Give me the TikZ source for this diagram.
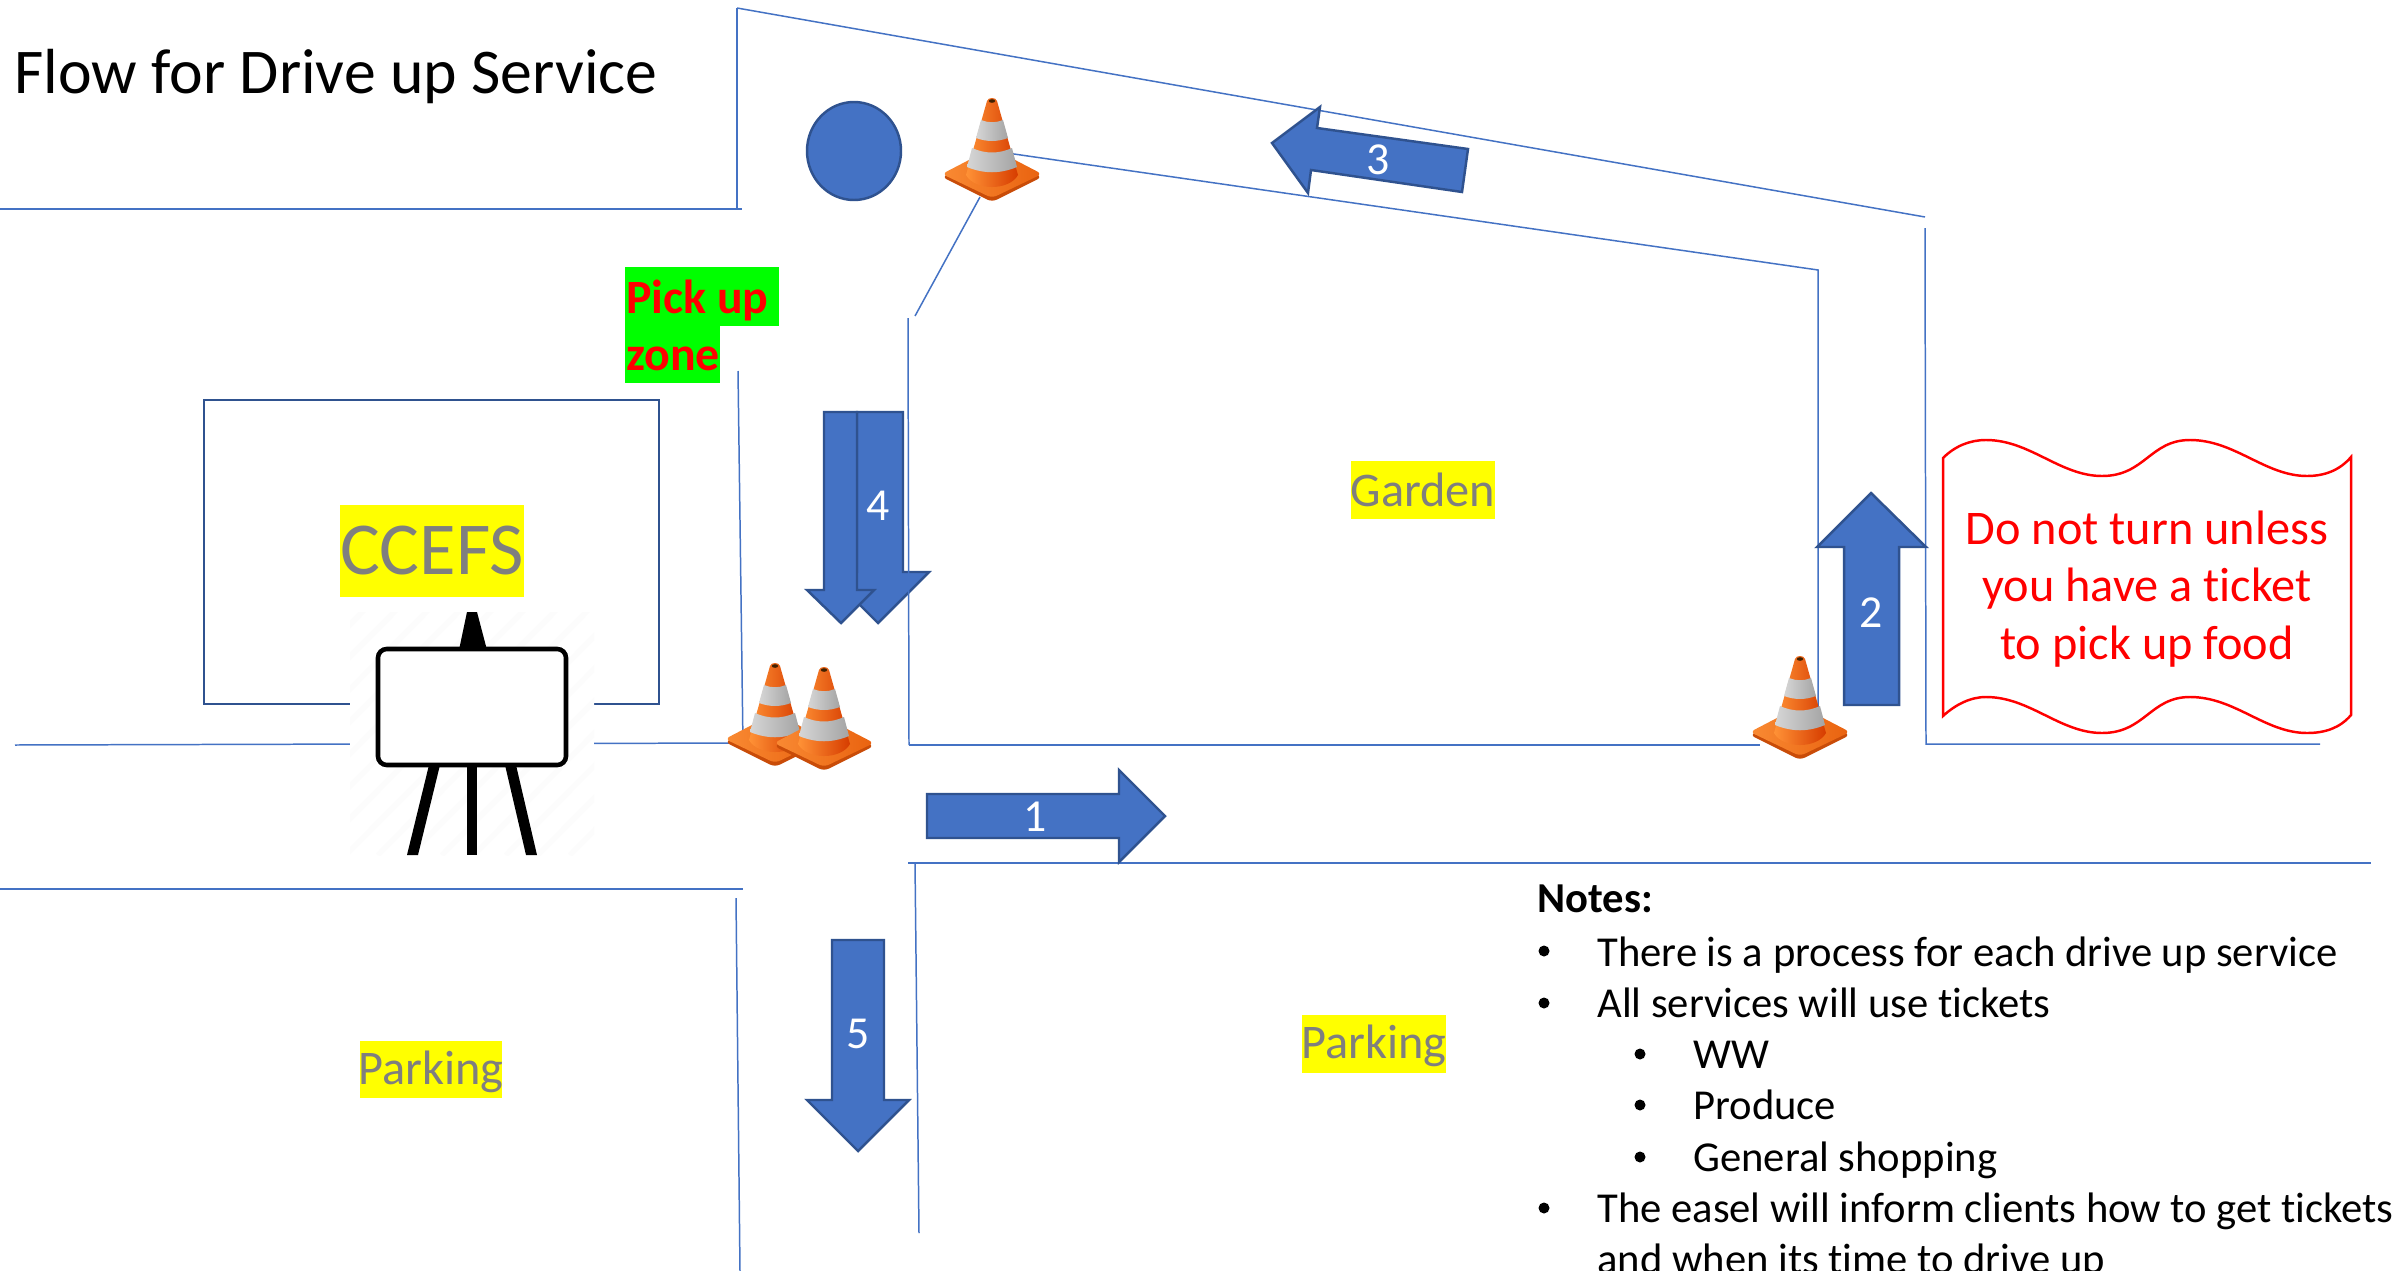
\documentclass[tikz,border=0pt]{standalone}
\usepackage{fontspec}
\setmainfont{Carlito}[Ligatures=NoCommon]
\definecolor{road}{HTML}{4472C4}
\definecolor{blockblue}{HTML}{4472C4}
\definecolor{blockedge}{HTML}{2F528F}
\definecolor{labelgrey}{HTML}{7F7F7F}
\definecolor{markyellow}{HTML}{FFFF00}
\definecolor{markgreen}{HTML}{00FF00}
\definecolor{signred}{HTML}{FF0000}
\definecolor{conea}{HTML}{FF9236}
\definecolor{coneb}{HTML}{F26F12}
\definecolor{conec}{HTML}{D63C00}
\definecolor{conedark}{HTML}{C94C08}
\definecolor{basel}{HTML}{F98A33}
\definecolor{baser}{HTML}{E9620F}
\definecolor{bandl}{HTML}{D6D6D6}
\definecolor{bandr}{HTML}{A4A4A4}
\newcommand{\px}[1]{\fontsize{\fpeval{#1*0.5669}pt}{\fpeval{#1*0.68}pt}\selectfont}
\tikzset{
  roadline/.style={draw=road,line width=0.85pt},
  block/.style={fill=blockblue,draw=blockedge,line width=1.4pt,line join=miter},
  num/.style={text=white,inner sep=0pt,font=\px{46}},
  area/.style={fill=markyellow,text=labelgrey,inner sep=0pt,font=\px{48.5}},
  note/.style={anchor=base west,inner sep=0pt,font=\px{42.8}},
  bul/.style={fill=black},
  pics/trafficcone/.style={code={
    \fill[conedark,rounded corners=3] (-50,79)--(0,54)--(50,79)--(0,104)--cycle;
    \shade[left color=basel,right color=baser,rounded corners=3] (-50,76)--(0,50)--(50,76)--(0,100)--cycle;
    \shade[left color=conea,middle color=coneb,right color=conec]
      (-5,3) .. controls (-4,-1) and (4,-1) .. (5,3) -- (26,77)
      .. controls (17,93) and (-17,93) .. (-26,77) -- cycle;
    \shade[left color=bandl,right color=bandr]
      (-11,22) .. controls (-4,25) and (4,25) .. (11,22) -- (16,40)
      .. controls (5,44) and (-5,44) .. (-16,40) -- cycle;
    \shade[left color=bandl,right color=bandr]
      (-20,50) .. controls (-7,56) and (7,56) .. (20,50) -- (25,69)
      .. controls (8,76) and (-8,76) .. (-25,69) -- cycle;
    \fill[black!75!orange] (0,3) ellipse [x radius=3.2,y radius=1.8];
  }}
}
\begin{document}
\begin{tikzpicture}[x=0.02cm,y=-0.02cm]
\useasboundingbox (0,0) rectangle (2394,1271);
\clip (0,0) rectangle (2394,1271);
\fill[white] (0,0) rectangle (2394,1271);

% roads
\draw[roadline] (737,8) -- (1925,217);
\draw[roadline] (737,8) -- (737,209);
\draw[roadline] (0,209) -- (742,209);
\draw[roadline] (1000,152) -- (1818,270) -- (1818,745);
\draw[roadline] (915,316) -- (980,197);
\draw[roadline] (738,371) -- (743,745);
\draw[roadline] (15,745) -- (745,743);
\draw[roadline] (909,745) -- (1760,745);
\draw[roadline] (1925,228) -- (1926,744) -- (2320,744);
\draw[roadline] (908,863) -- (2371,863);
\draw[roadline] (915,862) -- (919,1233);
\draw[roadline] (0,889) -- (743,889);
\draw[roadline] (736,898) -- (740,1271);

% CCEFS building
\draw[draw=blockedge,line width=1.4pt] (204,704) -- (204,400) -- (659,400) -- (659,704) -- cycle;

% circle
\draw[block] (854,151) ellipse [x radius=47,y radius=49];

% easel
\fill[white] (350,612) rectangle (594,855);
\begin{scope}
  \clip (350,612) rectangle (594,855);
  \foreach \d in {0,32,...,512}
    \draw[black!1.2,line width=3pt] (350+\d-260,855) -- (350+\d,612-20);
\end{scope}
\fill[black] (467,612) -- (477,612) -- (487,650) -- (459,650) -- cycle;
\fill[black] (429,765) -- (440,765) -- (418,855) -- (407,855) -- cycle;
\fill[black] (467,765) rectangle (477,855);
\fill[black] (505,765) -- (516,765) -- (537,855) -- (526,855) -- cycle;
\draw[black,fill=white,line width=2.6pt,rounded corners=5] (378,649) rectangle (566,765);

% block arrows
\draw[block] (927,794) -- (1119,794) -- (1119,770) -- (1165,816) -- (1119,862) -- (1119,838) -- (927,838) -- cycle;
\node[num] (n1) at (1035,817) {1};
\draw[block] (1844,705) -- (1844,547) -- (1817,547) -- (1871,493) -- (1926,547) -- (1899,547) -- (1899,705) -- cycle;
\node[num] (n2) at (1871,613) {2};
\draw[block] (1272,143) -- (1320,107) -- (1317,128) -- (1468,149) -- (1462,192) -- (1311,170) -- (1308,193) -- cycle;
\node[num] (n3) at (1378,160) {3};
\draw[block] (857,412) -- (903,412) -- (903,572) -- (929,572) -- (878,623) -- (827,572) -- (857,572) -- cycle;
\draw[block] (824,412) -- (857,412) -- (857,590) -- (874,590) -- (841,623) -- (807,590) -- (824,590) -- cycle;
\node[num] (n4) at (878,506) {4};
\draw[block] (832,940) -- (884,940) -- (884,1100) -- (909,1100) -- (858,1151) -- (807,1100) -- (832,1100) -- cycle;
\node[num] (n5) at (858,1034) {5};
\draw[roadline] (908,318) -- (909,745);

% cones
\pic at (992,98) {trafficcone};
\pic at (775,663) {trafficcone};
\pic at (824,667) {trafficcone};
\pic at (1800,656) {trafficcone};

% scroll sign
\draw[signred,line width=1.4pt]
  (1943,458) .. controls (1955,446) and (1970,440) .. (1986,440)
  .. controls (2030,440) and (2060,476) .. (2102,476)
  .. controls (2145,476) and (2150,440) .. (2190,440)
  .. controls (2235,440) and (2265,476) .. (2307,476)
  .. controls (2325,476) and (2340,470) .. (2351,457)
  -- (2351,715)
  .. controls (2340,728) and (2325,733) .. (2307,733)
  .. controls (2265,733) and (2235,697) .. (2190,697)
  .. controls (2150,697) and (2145,733) .. (2102,733)
  .. controls (2060,733) and (2030,697) .. (1986,697)
  .. controls (1970,697) and (1955,705) .. (1943,716)
  -- cycle;
\node[text=signred,inner sep=0pt,align=center,font=\fontsize{27.5pt}{32.9pt}\selectfont] (sign) at (2147,589)
  {Do not turn unless\\you have a ticket\\to pick up food};

% labels
\node[area,minimum width=144*0.02cm,minimum height=58*0.02cm] (garden) at (1423,490) {Garden};
\node[area,minimum width=184*0.02cm,minimum height=92*0.02cm,font=\px{75}] (ccefs) at (432,551) {CCEFS};
\fill[markyellow] (360,1041) rectangle (502,1098);
\node[text=labelgrey,inner sep=0pt,font=\px{48.5}] (park1) at (431,1072) {Parking};
\fill[markyellow] (1302,1015) rectangle (1446,1073);
\node[text=labelgrey,inner sep=0pt,font=\px{48.5}] (park2) at (1374,1046) {Parking};

\fill[markgreen] (625,267) rectangle (779,326);
\fill[markgreen] (625,326) rectangle (720,383);
\node[anchor=base west,inner sep=0pt,text=signred,font=\px{48}\bfseries] (pick) at (626,313) {Pick up};
\node[anchor=base west,inner sep=0pt,text=signred,font=\px{48}\bfseries] (zone) at (626,370) {zone};

\node[anchor=base west,inner sep=0pt,font=\px{64}] (title) at (14,93) {Flow for Drive up Service};

% notes
\node[note,font=\px{42.8}\bfseries] (notes) at (1537,912) {Notes:};
\node[note] (t1) at (1597,966) {There is a process for each drive up service};
\node[note] (t2) at (1597,1017) {All services will use tickets};
\node[note] (t3) at (1693,1068) {WW};
\node[note] (t4) at (1693,1119) {Produce};
\node[note] (t5) at (1693,1171) {General shopping};
\node[note] (t6) at (1597,1222) {The easel will inform clients how to get tickets};
\node[note] (t7) at (1597,1273) {and when its time to drive up};
\foreach \bx/\by in {1544/951,1544/1003,1640/1054,1640/1105,1640/1157,1544/1208}
  \fill[bul] (\bx,\by) circle (5.5);
\end{tikzpicture}
\end{document}
